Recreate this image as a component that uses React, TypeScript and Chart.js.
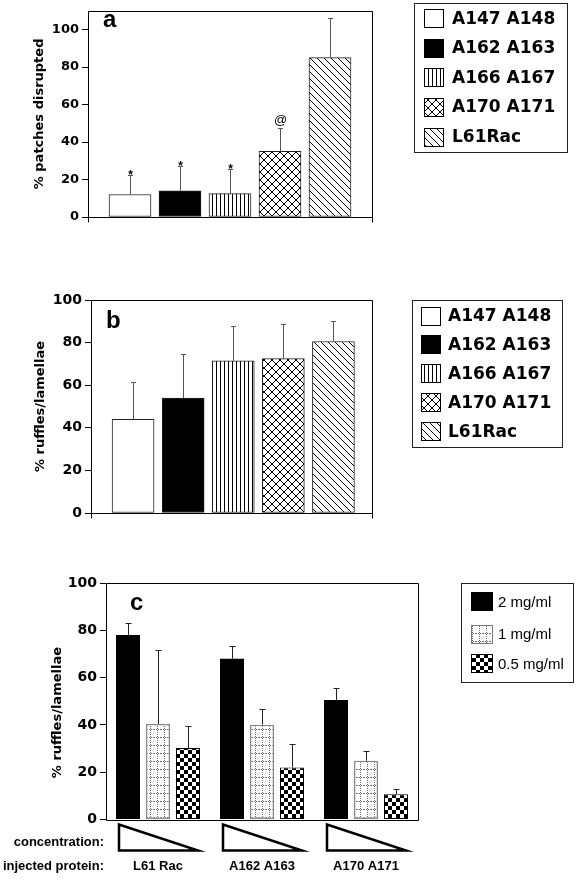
import React, { useEffect, useRef } from 'react';
import { Chart, registerables } from 'chart.js';

Chart.register(...registerables);

// ---------- data ----------
const mutantLabels = ['A147 A148', 'A162 A163', 'A166 A167', 'A170 A171', 'L61Rac'];
const patchValues = [12, 14, 12.5, 35, 85];
const patchErrTops = [22.5, 27, 25.5, 47.5, 106];
const patchMarks = ['*', '*', '*', '@', ''];
const ruffleValues = [44, 54, 71.5, 72.5, 80.5];
const ruffleErrTops = [61.5, 74.5, 88, 88.5, 90];

const proteinLabels = ['L61 Rac', 'A162 A163', 'A170 A171'];
const doseLabels = ['2 mg/ml', '1 mg/ml', '0.5 mg/ml'];
const dose2Values = [78, 68, 50.5];
const dose2ErrTops = [83, 73.5, 55.7];
const dose1Values = [40.4, 40.1, 24.8];
const dose1ErrTops = [71.6, 46.9, 28.8];
const dose05Values = [30.2, 22, 10.7];
const dose05ErrTops = [39.5, 32, 13];

const W = 577;
const TICK_FONT = 'DejaVu Sans';
const SANS = 'Liberation Sans';

// ---------- patterns ----------
function tile(w: number, h: number, draw: (g: CanvasRenderingContext2D) => void) {
  const c = document.createElement('canvas');
  c.width = w;
  c.height = h;
  const g = c.getContext('2d')!;
  g.fillStyle = '#fff';
  g.fillRect(0, 0, w, h);
  draw(g);
  return g.createPattern(c, 'repeat')!;
}

function makePatterns() {
  const vlines = tile(4, 4, (g) => {
    g.fillStyle = '#000';
    g.fillRect(0, 0, 1, 4);
  });
  const cross = tile(8, 8, (g) => {
    g.strokeStyle = '#000';
    g.lineWidth = 1;
    g.beginPath();
    g.moveTo(-1, -1); g.lineTo(9, 9);
    g.moveTo(-1, 9); g.lineTo(9, -1);
    g.stroke();
  });
  const diag = tile(7, 7, (g) => {
    g.strokeStyle = '#000';
    g.lineWidth = 1;
    g.beginPath();
    g.moveTo(-1, -1); g.lineTo(8, 8);
    g.moveTo(6, -1); g.lineTo(15, 8);
    g.moveTo(-8, -1); g.lineTo(1, 8);
    g.stroke();
  });
  const checker = tile(8, 8, (g) => {
    g.fillStyle = '#000';
    g.fillRect(0, 0, 4, 4);
    g.fillRect(4, 4, 4, 4);
  });
  const dotgrid = tile(7, 8, (g) => {
    g.fillStyle = '#666';
    for (let y = 0; y < 8; y += 2) g.fillRect(3, y, 1, 1);
    for (let x = 0; x < 7; x += 2) g.fillRect(x, 7, 1, 1);
  });
  return { vlines, cross, diag, checker, dotgrid };
}

// ---------- plugins ----------
const framePlugin = (ext: number) => ({
  id: 'frame',
  afterDatasetsDraw(chart: any) {
    const { ctx, chartArea } = chart;
    const l = Math.round(chartArea.left) + 0.5;
    const r = Math.round(chartArea.right) + 0.5;
    const t = Math.round(chartArea.top) + 0.5;
    const b = Math.round(chartArea.bottom) + 0.5;
    ctx.save();
    ctx.strokeStyle = '#000';
    ctx.lineWidth = 1;
    ctx.beginPath();
    ctx.moveTo(l, b + ext); ctx.lineTo(l, t); ctx.lineTo(r, t); ctx.lineTo(r, b + ext);
    ctx.moveTo(l, b); ctx.lineTo(r, b);
    ctx.stroke();
    ctx.restore();
  },
});

const errorBarPlugin = (color: string, cap: number) => ({
  id: 'errorBars',
  afterDatasetsDraw(chart: any) {
    const { ctx } = chart;
    const yScale = chart.scales.y;
    ctx.save();
    chart.data.datasets.forEach((ds: any, di: number) => {
      const meta = chart.getDatasetMeta(di);
      meta.data.forEach((bar: any, i: number) => {
        const topVal = ds.errTops ? ds.errTops[i] : null;
        if (topVal == null) return;
        const x = Math.round(bar.x) + 0.5;
        const y0 = bar.y;
        const y1 = Math.round(yScale.getPixelForValue(topVal)) + 0.5;
        ctx.strokeStyle = color;
        ctx.lineWidth = 1;
        ctx.beginPath();
        ctx.moveTo(x, y0);
        ctx.lineTo(x, y1);
        ctx.moveTo(x - cap, y1);
        ctx.lineTo(x + cap, y1);
        ctx.stroke();
        const mark = ds.marks ? ds.marks[i] : '';
        if (mark) {
          ctx.fillStyle = '#000';
          ctx.textAlign = 'center';
          ctx.textBaseline = 'alphabetic';
          if (mark === '*') {
            ctx.font = `bold 12px ${SANS}`;
            ctx.fillText(mark, x, y1 + 3);
          } else {
            ctx.font = `13px ${SANS}`;
            ctx.fillText(mark, x, y1 - 5);
          }
        }
      });
    });
    ctx.restore();
  },
});

type LegendItem = { text: string; fill: any; stroke: string | null };
type LegendSpec = {
  box: [number, number, number, number];
  items: LegendItem[];
  sx: number; sw: number; sh: number;
  rows: number[];
  tx: number;
  font: string;
};

const legendPlugin = (spec: LegendSpec) => ({
  id: 'customLegend',
  afterDraw(chart: any) {
    const { ctx } = chart;
    ctx.save();
    const [x1, y1, x2, y2] = spec.box;
    ctx.strokeStyle = '#222';
    ctx.lineWidth = 1;
    ctx.strokeRect(Math.round(x1) + 0.5, Math.round(y1) + 0.5, Math.round(x2 - x1), Math.round(y2 - y1));
    spec.items.forEach((it, i) => {
      const cy = spec.rows[i];
      const sy = Math.round(cy - spec.sh / 2);
      const sx = Math.round(spec.sx);
      ctx.fillStyle = it.fill;
      ctx.fillRect(sx, sy, spec.sw, spec.sh);
      if (it.stroke) {
        ctx.strokeStyle = it.stroke;
        ctx.lineWidth = 1;
        ctx.strokeRect(sx + 0.5, sy + 0.5, spec.sw - 1, spec.sh - 1);
      }
      ctx.fillStyle = '#000';
      ctx.font = spec.font;
      ctx.textAlign = 'left';
      ctx.textBaseline = 'middle';
      ctx.fillText(it.text, spec.tx, cy + 1);
    });
    ctx.restore();
  },
});

const panelLabelPlugin = (text: string, x: number, y: number) => ({
  id: 'panelLabel',
  afterDraw(chart: any) {
    const { ctx } = chart;
    ctx.save();
    ctx.fillStyle = '#000';
    ctx.font = `bold 24px ${SANS}`;
    ctx.textAlign = 'left';
    ctx.textBaseline = 'alphabetic';
    ctx.fillText(text, x, y);
    ctx.restore();
  },
});

const trianglePlugin = {
  id: 'triangles',
  afterDraw(chart: any) {
    const { ctx, chartArea } = chart;
    const xs = chart.scales.x;
    ctx.save();
    ctx.strokeStyle = '#000';
    ctx.lineWidth = 2.5;
    ctx.lineJoin = 'miter';
    const top = chartArea.bottom + 5;
    const bot = chartArea.bottom + 31;
    proteinLabels.forEach((_, i) => {
      const cx = xs.getPixelForValue(i);
      const l = cx - 39;
      const r = cx + 40;
      ctx.beginPath();
      ctx.moveTo(l, top);
      ctx.lineTo(l, bot);
      ctx.lineTo(r, bot);
      ctx.closePath();
      ctx.stroke();
    });
    ctx.fillStyle = '#000';
    ctx.font = `bold 13px ${SANS}`;
    ctx.textAlign = 'right';
    ctx.textBaseline = 'middle';
    ctx.fillText('concentration:', 104, chartArea.bottom + 23);
    ctx.fillText('injected protein:', 104, chartArea.bottom + 47);
    ctx.restore();
  },
};

// ---------- axis helpers ----------
function yAxis(max: number, title: string, tickSize: number, width: number) {
  return {
    type: 'linear',
    min: 0,
    max,
    ticks: {
      stepSize: 20,
      color: '#000',
      padding: 3,
      font: { family: TICK_FONT, weight: 'bold', size: tickSize },
    },
    afterBuildTicks: (s: any) => {
      s.ticks = s.ticks.filter((t: any) => t.value <= 100);
    },
    grid: { display: true, drawOnChartArea: false, drawTicks: true, tickLength: 6, color: '#000', lineWidth: 1 },
    border: { display: false },
    title: {
      display: true,
      text: title,
      color: '#000',
      padding: { top: 4, bottom: 4 },
      font: { family: TICK_FONT, weight: 'bold', size: 13 },
    },
    afterFit: (s: any) => {
      s.width = width;
    },
  };
}

function ChartCanvas({ top, height, build }: { top: number; height: number; build: () => any }) {
  const ref = useRef<HTMLCanvasElement>(null);
  useEffect(() => {
    const chart = new Chart(ref.current!, build());
    return () => chart.destroy();
  }, []);
  return (
    <canvas
      ref={ref}
      width={W}
      height={height}
      style={{ position: 'absolute', left: 0, top, width: W, height, display: 'block' }}
    />
  );
}

function buildA() {
  const p = makePatterns();
  const fills = ['#fff', '#000', p.vlines, p.cross, p.diag];
  return {
    type: 'bar',
    data: {
      datasets: [
        {
          data: patchValues.map((v, i) => ({ x: i + 1, y: v })),
          backgroundColor: fills,
          borderColor: '#222',
          borderWidth: 1,
          borderSkipped: false,
          barThickness: 42,
          errTops: patchErrTops,
          marks: patchMarks,
        },
      ],
    },
    options: {
      responsive: false,
      animation: false,
      devicePixelRatio: 1,
      layout: { padding: { left: 28, right: 205, top: 4, bottom: 43 } },
      plugins: { legend: { display: false }, tooltip: { enabled: false } },
      scales: {
        x: { type: 'linear', min: 0.16, max: 5.84, offset: false, display: false },
        y: yAxis(110, '% patches disrupted', 13, 60),
      },
    },
    plugins: [
      errorBarPlugin('#555', 2.5),
      framePlugin(5),
      panelLabelPlugin('a', 103, 27),
      legendPlugin({
        box: [414, 3, 567, 152],
        items: mutantLabels.map((t, i) => ({ text: t, fill: fills[i], stroke: '#000' })),
        sx: 424, sw: 20, sh: 19,
        rows: [18.5, 48, 77.5, 107, 137],
        tx: 452,
        font: `bold 17px ${TICK_FONT}`,
      }),
    ],
  };
}

function buildB() {
  const p = makePatterns();
  const fills = ['#fff', '#000', p.vlines, p.cross, p.diag];
  return {
    type: 'bar',
    data: {
      datasets: [
        {
          data: ruffleValues.map((v, i) => ({ x: i + 1, y: v })),
          backgroundColor: fills,
          borderColor: '#222',
          borderWidth: 1,
          borderSkipped: false,
          barThickness: 42,
          errTops: ruffleErrTops,
        },
      ],
    },
    options: {
      responsive: false,
      animation: false,
      devicePixelRatio: 1,
      layout: { padding: { left: 29, right: 205, top: 20, bottom: 27 } },
      plugins: { legend: { display: false }, tooltip: { enabled: false } },
      scales: {
        x: { type: 'linear', min: 0.16, max: 5.77, offset: false, display: false },
        y: yAxis(100, '% ruffles/lamellae', 14, 62),
      },
    },
    plugins: [
      errorBarPlugin('#555', 2.5),
      framePlugin(5),
      panelLabelPlugin('b', 106, 47.5),
      legendPlugin({
        box: [412, 20, 562, 167],
        items: mutantLabels.map((t, i) => ({ text: t, fill: fills[i], stroke: '#000' })),
        sx: 421, sw: 20, sh: 19,
        rows: [36, 64.5, 93.5, 122.5, 151.5],
        tx: 448,
        font: `bold 17px ${TICK_FONT}`,
      }),
    ],
  };
}

function buildC() {
  const p = makePatterns();
  const common = { categoryPercentage: 0.865, barPercentage: 0.8, borderSkipped: false };
  const yc: any = yAxis(100, '% ruffles/lamellae\u00a0\u00a0\u00a0\u00a0\u00a0', 14, 60);
  return {
    type: 'bar',
    data: {
      labels: proteinLabels,
      datasets: [
        { ...common, label: doseLabels[0], data: dose2Values, backgroundColor: '#000', borderWidth: 0, errTops: dose2ErrTops },
        { ...common, label: doseLabels[1], data: dose1Values, backgroundColor: p.dotgrid, borderColor: '#888', borderWidth: 1.5, errTops: dose1ErrTops },
        { ...common, label: doseLabels[2], data: dose05Values, backgroundColor: p.checker, borderColor: '#000', borderWidth: 1, errTops: dose05ErrTops },
      ],
    },
    options: {
      responsive: false,
      animation: false,
      devicePixelRatio: 1,
      layout: { padding: { left: 46, right: 159, top: 13, bottom: 0 } },
      plugins: { legend: { display: false }, tooltip: { enabled: false } },
      scales: {
        x: {
          type: 'category',
          offset: true,
          grid: { display: false, drawTicks: false },
          border: { display: false },
          ticks: {
            color: '#000',
            padding: 39,
            maxRotation: 0,
            autoSkip: false,
            font: { family: SANS, weight: 'bold', size: 13 },
          },
          afterFit: (s: any) => {
            s.height = 63.5;
          },
        },
        y: yc,
      },
    },
    plugins: [
      errorBarPlugin('#222', 3),
      framePlugin(0),
      trianglePlugin,
      panelLabelPlugin('c', 130, 39.5),
      legendPlugin({
        box: [461, 13, 573, 112],
        items: [
          { text: doseLabels[0], fill: '#000', stroke: null },
          { text: doseLabels[1], fill: p.dotgrid, stroke: '#777' },
          { text: doseLabels[2], fill: p.checker, stroke: '#000' },
        ],
        sx: 471, sw: 22, sh: 19,
        rows: [31.5, 64, 93.5],
        tx: 498,
        font: `15px ${SANS}`,
      }),
    ],
  };
}

export default function App() {
  return (
    <div style={{ position: 'absolute', left: 0, top: 0, width: W, height: 883, background: '#fff', overflow: 'hidden' }}>
      <ChartCanvas top={0} height={260} build={buildA} />
      <ChartCanvas top={280} height={260} build={buildB} />
      <ChartCanvas top={570} height={313} build={buildC} />
    </div>
  );
}
